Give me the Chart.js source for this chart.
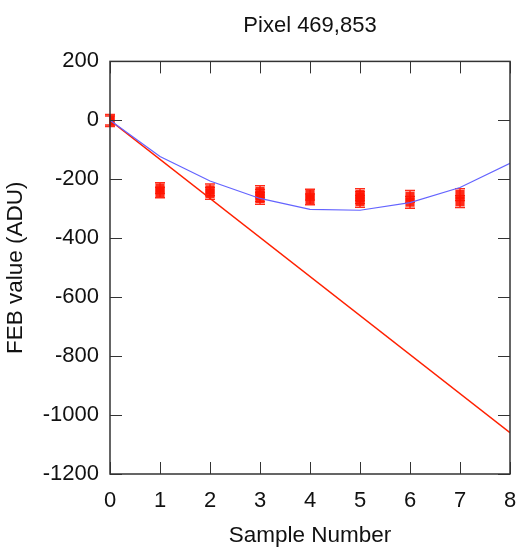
<!DOCTYPE html>
<html>
<head>
<meta charset="utf-8">
<script src="https://cdn.jsdelivr.net/npm/chart.js@4/dist/chart.umd.min.js"></script>
<style>
  html, body { margin: 0; padding: 0; background: #fff; }
  #wrap { width: 531px; height: 549px; }
</style>
</head>
<body>
<div id="wrap"><canvas id="febChart" width="531" height="549"></canvas></div>
<script>
// measured samples (several readings per sample number)
var sampleX = [0, 0, 1, 1, 2, 2, 3, 3, 3, 4, 4, 5, 5, 5, 6, 6, 7, 7];
var febValue = [2, -3, -230, -245, -236, -248, -242, -255, -265, -252, -268, -252, -262, -275, -258, -278, -252, -276];
var febErr = [18, 18, 18, 18, 20, 20, 20, 20, 20, 18, 18, 20, 20, 20, 20, 20, 20, 20];

// fitted curve (blue) and linear extrapolation (red)
var fitX = [0, 1, 2, 3, 4, 5, 6, 7, 8];
var fitY = [0, -123, -206, -265, -302, -305, -279, -228, -146];
var lineX = [0, 8];
var lineY = [0, -1060];

var xTicks = [0, 1, 2, 3, 4, 5, 6, 7, 8];
var yTicks = [200, 0, -200, -400, -600, -800, -1000, -1200];

function toPoints(xs, ys) {
    var pts = [];
    for (var i = 0; i < xs.length; i++) {
        pts.push({ x: xs[i], y: ys[i] });
    }
    return pts;
}

var fontFamily = "'Liberation Sans', Arial, Helvetica, sans-serif";
var textColor = "#111";

// error bars for the measured points
var errorBarPlugin = {
    id: 'errorBars',
    afterDatasetDraw: function (chart, args) {
        if (args.index !== 0) return;
        var ctx = chart.ctx;
        var yScale = chart.scales.y;
        var meta = chart.getDatasetMeta(0);
        ctx.save();
        ctx.strokeStyle = 'rgba(255,20,0,0.9)';
        ctx.lineWidth = 1.5;
        meta.data.forEach(function (pt, i) {
            var yTop = yScale.getPixelForValue(febValue[i] + febErr[i]);
            var yBot = yScale.getPixelForValue(febValue[i] - febErr[i]);
            ctx.beginPath();
            ctx.moveTo(pt.x, yTop);
            ctx.lineTo(pt.x, yBot);
            ctx.moveTo(pt.x - 5, yTop);
            ctx.lineTo(pt.x + 5, yTop);
            ctx.moveTo(pt.x - 5, yBot);
            ctx.lineTo(pt.x + 5, yBot);
            ctx.stroke();
        });
        ctx.restore();
    }
};

// frame with inward ticks on all four sides
var framePlugin = {
    id: 'frame',
    afterDraw: function (chart) {
        var ctx = chart.ctx;
        var area = chart.chartArea;
        var xs = chart.scales.x;
        var ys = chart.scales.y;
        var len = 12;
        ctx.save();
        ctx.strokeStyle = '#333';
        ctx.lineWidth = 1;
        ctx.beginPath();
        xTicks.forEach(function (v) {
            var px = Math.round(xs.getPixelForValue(v)) + 0.5;
            ctx.moveTo(px, area.bottom);
            ctx.lineTo(px, area.bottom - len);
            ctx.moveTo(px, area.top);
            ctx.lineTo(px, area.top + len);
        });
        yTicks.forEach(function (v) {
            var py = Math.round(ys.getPixelForValue(v)) + 0.5;
            ctx.moveTo(area.left, py);
            ctx.lineTo(area.left + len, py);
            ctx.moveTo(area.right, py);
            ctx.lineTo(area.right - len, py);
        });
        ctx.stroke();
        ctx.lineWidth = 1.5;
        ctx.strokeRect(area.left, area.top, area.right - area.left, area.bottom - area.top);
        ctx.restore();
    }
};

var ctx = document.getElementById('febChart').getContext('2d');
var febChart = new Chart(ctx, {
    type: 'scatter',
    data: {
        datasets: [
            {
                label: 'FEB samples',
                data: toPoints(sampleX, febValue),
                pointStyle: 'rect',
                pointRadius: 6.5,
                backgroundColor: 'rgba(255,20,0,0.9)',
                borderWidth: 0,
                showLine: false,
                order: 2
            },
            {
                label: 'Fit',
                data: toPoints(fitX, fitY),
                showLine: true,
                borderColor: '#6464ff',
                borderWidth: 1.2,
                pointRadius: 0,
                fill: false,
                order: 0
            },
            {
                label: 'Linear',
                data: toPoints(lineX, lineY),
                showLine: true,
                borderColor: '#ff2000',
                borderWidth: 1.5,
                pointRadius: 0,
                fill: false,
                order: 1
            }
        ]
    },
    options: {
        responsive: false,
        animation: false,
        layout: { padding: { left: 0, right: 21, top: 0, bottom: 0 } },
        plugins: {
            legend: { display: false },
            tooltip: { enabled: false },
            title: {
                display: true,
                text: 'Pixel 469,853',
                fullSize: false,
                color: textColor,
                font: { family: fontFamily, size: 22, weight: 'normal' },
                padding: { top: 13, bottom: 22 }
            }
        },
        scales: {
            x: {
                type: 'linear',
                min: 0,
                max: 8,
                afterBuildTicks: function (scale) {
                    scale.ticks = xTicks.map(function (v) { return { value: v }; });
                },
                grid: { display: false, drawTicks: false },
                border: { display: false },
                ticks: {
                    color: textColor,
                    padding: 14,
                    maxRotation: 0,
                    font: { family: fontFamily, size: 22 },
                    callback: function (v) { return String(v); }
                },
                title: {
                    display: true,
                    text: 'Sample Number',
                    color: textColor,
                    font: { family: fontFamily, size: 22.5 },
                    padding: { top: 0, bottom: 0 }
                },
                afterFit: function (scale) { scale.height = 75; }
            },
            y: {
                type: 'linear',
                min: -1200,
                max: 200,
                afterBuildTicks: function (scale) {
                    scale.ticks = yTicks.map(function (v) { return { value: v }; });
                },
                grid: { display: false, drawTicks: false },
                border: { display: false },
                ticks: {
                    color: textColor,
                    padding: 11,
                    font: { family: fontFamily, size: 22 },
                    callback: function (v) { return String(v); }
                },
                title: {
                    display: true,
                    text: 'FEB value (ADU)',
                    color: textColor,
                    font: { family: fontFamily, size: 22.5 },
                    padding: { top: 2, bottom: 0 }
                },
                afterFit: function (scale) { scale.width = 110; }
            }
        }
    },
    plugins: [errorBarPlugin, framePlugin]
});
</script>
</body>
</html>
